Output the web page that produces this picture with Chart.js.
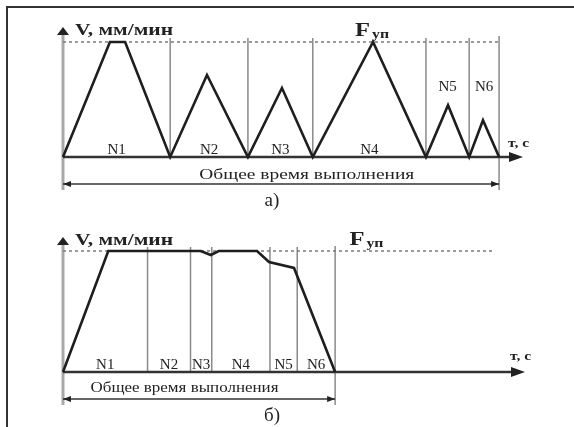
<!DOCTYPE html>
<html>
<head>
<meta charset="utf-8">
<script src="https://cdn.jsdelivr.net/npm/chart.js@4.4.1/dist/chart.umd.min.js"></script>
<style>
  body { margin: 0; background: #fff; }
  #wrap { position: relative; width: 574px; height: 427px; overflow: hidden; }
  #frame { position: absolute; left: 6px; top: 6px; width: 567px; height: 430px;
           border-top: 2px solid #333; border-left: 2px solid #333; }
  canvas { position: absolute; left: 0; }
</style>
</head>
<body>
<div id="wrap">
  <div id="frame"></div>
  <canvas id="chartA" width="574" height="214" style="top:0"></canvas>
  <canvas id="chartB" width="574" height="213" style="top:214px"></canvas>
</div>
<script>
// panel a) - separate runs, speed drops to zero between blocks
const segLabels = ['N1', 'N2', 'N3', 'N4', 'N5', 'N6'];
const aBounds = [0, 23.3, 40.2, 54.3, 78.9, 88.3, 94.8];
const aTime  = [0, 10.2, 13.5, 23.3, 31.3, 40.2, 47.6, 54.3, 67.4, 78.9, 83.7, 88.3, 91.3, 94.8];
const aSpeed = [0, 100, 100, 0, 71.3, 0, 60, 0, 100, 0, 45, 0, 32, 0];
const aFeedEnd = 94.8;

// panel б) - continuous run
const bBounds = [0, 18.3, 27.6, 32.2, 44.8, 50.7, 58.9];
const bTime  = [0, 9.8, 29.8, 32, 33.7, 42, 44.6, 50, 58.9];
const bSpeed = [0, 100, 100, 96.7, 100, 100, 90.9, 86, 0];
const bFeedEnd = 93.5;

const FEED = 100;
const yTitle = 'V, мм/мин';
const xTitle = 'т, с';
const totalText = 'Общее время выполнения';

function fitText(ctx, s, x, y, font, w, align) {
  ctx.save();
  ctx.font = font;
  const m = ctx.measureText(s).width;
  const k = w ? w / m : 1;
  ctx.translate(x, y);
  ctx.scale(k, 1);
  ctx.textAlign = align || 'left';
  ctx.textBaseline = 'alphabetic';
  ctx.fillStyle = '#222';
  ctx.fillText(s, 0, 0);
  ctx.restore();
}

function tri(ctx, pts) {
  ctx.beginPath();
  ctx.moveTo(pts[0], pts[1]);
  ctx.lineTo(pts[2], pts[3]);
  ctx.lineTo(pts[4], pts[5]);
  ctx.closePath();
  ctx.fill();
}

const decor = {
  id: 'decor',
  beforeDatasetsDraw(chart, args, o) {
    const ctx = chart.ctx;
    const sx = chart.scales.x, sy = chart.scales.y;
    const x0 = sx.getPixelForValue(0), y0 = sy.getPixelForValue(0), yF = sy.getPixelForValue(FEED);
    ctx.save();
    // y axis
    ctx.strokeStyle = '#a8a8a8';
    ctx.lineWidth = 3;
    ctx.beginPath();
    ctx.moveTo(x0, chart.chartArea.top + 2);
    ctx.lineTo(x0, y0 + 33);
    ctx.stroke();
    // segment boundaries
    ctx.strokeStyle = '#8a8a8a';
    ctx.lineWidth = 1.5;
    o.bounds.slice(1).forEach((b, i, arr) => {
      const px = sx.getPixelForValue(b);
      const last = i === arr.length - 1;
      ctx.beginPath();
      ctx.moveTo(px, last ? chart.chartArea.top + 3 : yF - 4);
      ctx.lineTo(px, last ? y0 + 33 : y0);
      ctx.stroke();
    });
    // x axis
    ctx.strokeStyle = '#333';
    ctx.lineWidth = 2.5;
    ctx.beginPath();
    ctx.moveTo(x0, y0);
    ctx.lineTo(chart.chartArea.right - 10, y0);
    ctx.stroke();
    ctx.restore();
  },
  afterDatasetsDraw(chart, args, o) {
    const ctx = chart.ctx;
    const sx = chart.scales.x, sy = chart.scales.y;
    const x0 = sx.getPixelForValue(0), y0 = sy.getPixelForValue(0), yF = sy.getPixelForValue(FEED);
    const top = chart.chartArea.top, right = chart.chartArea.right;
    ctx.save();
    ctx.fillStyle = '#222';
    // arrows of the axes
    tri(ctx, [right, y0, right - 14, y0 - 5, right - 14, y0 + 5]);
    tri(ctx, [x0, top - 6, x0 - 6, top + 2, x0 + 6, top + 2]);
    // dimension line
    const xe = sx.getPixelForValue(o.bounds[o.bounds.length - 1]);
    const yd = y0 + 27;
    ctx.strokeStyle = '#333';
    ctx.lineWidth = 1.5;
    ctx.beginPath();
    ctx.moveTo(x0, yd);
    ctx.lineTo(xe, yd);
    ctx.stroke();
    tri(ctx, [x0, yd, x0 + 8, yd - 3, x0 + 8, yd + 3]);
    tri(ctx, [xe, yd, xe - 8, yd - 3, xe - 8, yd + 3]);
    ctx.restore();

    // texts
    fitText(ctx, yTitle, x0 + 12, top + 2, 'bold 16px "Liberation Serif"', 98);
    fitText(ctx, 'F', sx.getPixelForValue(o.fLabel), yF - 6, 'bold 19px "Liberation Serif"', 15);
    fitText(ctx, 'уп', sx.getPixelForValue(o.fLabel) + 17, yF - 4, 'bold 13px "Liberation Serif"', 17);
    fitText(ctx, xTitle, right - 15, y0 + o.xTitleDy, 'bold 13px "Liberation Serif"', 21);
    segLabels.forEach((s, i) => {
      const c = sx.getPixelForValue((o.bounds[i] + o.bounds[i + 1]) / 2);
      const raised = o.raised.includes(i);
      fitText(ctx, s, c, raised ? y0 - 66 : y0 - 3, '15px "Liberation Serif"', 0, 'center');
    });
    fitText(ctx, totalText, sx.getPixelForValue(o.totalAt), y0 + o.totalDy,
            '15px "Liberation Serif"', o.totalW, 'center');
    fitText(ctx, o.letter, 272, y0 + 49, '19px "Liberation Serif"', 0, 'center');
  }
};

function makeChart(id, times, speeds, feedEnd, yMax, pad, opts) {
  new Chart(document.getElementById(id), {
    type: 'line',
    data: {
      datasets: [
        {
          data: times.map((t, i) => ({ x: t, y: speeds[i] })),
          borderColor: '#1e1e1e',
          borderWidth: 2.6,
          tension: 0,
          clip: false
        },
        {
          data: [{ x: 0, y: FEED }, { x: feedEnd, y: FEED }],
          borderColor: '#7a7a7a',
          borderWidth: 1.5,
          borderDash: [3, 3],
          clip: false
        }
      ]
    },
    options: {
      responsive: false,
      animation: false,
      events: [],
      layout: { padding: pad },
      elements: { point: { radius: 0 } },
      plugins: { legend: { display: false }, tooltip: { enabled: false }, decor: opts },
      scales: {
        x: { type: 'linear', min: 0, max: 100, display: false },
        y: { min: 0, max: yMax, display: false }
      }
    },
    plugins: [decor]
  });
}

makeChart('chartA', aTime, aSpeed, aFeedEnd, 107.8,
  { left: 63, right: 51, top: 33, bottom: 57 },
  { bounds: aBounds, raised: [4, 5], fLabel: 63.5, xTitleDy: -10,
    totalAt: 53, totalDy: 22, totalW: 215, letter: 'а)' });

makeChart('chartB', bTime, bSpeed, bFeedEnd, 106.6,
  { left: 63, right: 49, top: 29, bottom: 55 },
  { bounds: bBounds, raised: [], fLabel: 62, xTitleDy: -12,
    totalAt: 26.3, totalDy: 20, totalW: 188, letter: 'б)' });
</script>
</body>
</html>
